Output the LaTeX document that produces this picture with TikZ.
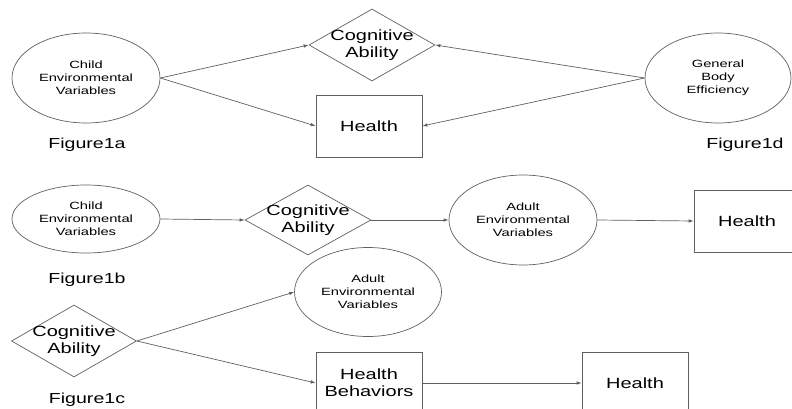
\documentclass[tikz,border=0pt]{standalone}
\usepackage{fontspec}
\newfontfamily\arialx[FakeStretch=1.35]{Liberation Sans}
\newfontfamily\arialsm[FakeStretch=1.4]{Liberation Sans}
\usetikzlibrary{shapes.geometric,arrows.meta}
\definecolor{linegray}{RGB}{95,95,95}
\begin{document}
\begin{tikzpicture}[x=1pt,y=-1pt,
  every node/.style={font=\arialx, text=black},
  ell/.style={draw=linegray, line width=0.7pt, ellipse, inner sep=0pt},
  diam/.style={draw=linegray, line width=0.7pt, diamond, inner sep=0pt, minimum width=126pt, minimum height=72pt},
  boxn/.style={draw=linegray, line width=0.7pt, rectangle, inner sep=0pt, minimum width=106pt, minimum height=62pt},
  smalltxt/.style={font=\arialsm\fontsize{10.5}{13}\selectfont, align=center},
  bigtxt/.style={font=\arialx\fontsize{14.8}{17}\selectfont, align=center},
  figlab/.style={font=\arialx\fontsize{14.5}{17}\selectfont},
  conn/.style={draw=linegray, line width=0.7pt, -{Latex[length=5pt,width=3.5pt]}}
]
\useasboundingbox (0,0) rectangle (792,409);
\clip (0,0) rectangle (792,409);

% Figure 1a / 1d
\node[ell, minimum width=148pt, minimum height=90pt] (child1) at (86,78) {};
\node[smalltxt] (child1t) at (child1) {Child\\Environmental\\Variables};
\node[diam] (cog1) at (372,45) {};
\node[bigtxt] (cog1t) at (cog1) {Cognitive\\Ability};
\node[boxn] (health1) at (369,126) {};
\node[bigtxt] (health1t) at (health1) {Health};
\node[ell, minimum width=146pt, minimum height=90pt] (gbe) at (718,78) {};
\node[smalltxt] (gbet) at (gbe) {General\\Body\\Efficiency};
\node[figlab] (fig1a) at (87,145) {Figure1a};
\node[figlab] (fig1d) at (745,145) {Figure1d};

\draw[conn] (child1.east) -- (cog1.west);
\draw[conn] (child1.east) -- (health1.west);
\draw[conn] (gbe.west) -- (cog1.east);
\draw[conn] (gbe.west) -- (health1.east);

% Figure 1b
\node[ell, minimum width=148pt, minimum height=68pt] (child2) at (86,219) {};
\node[smalltxt] (child2t) at (child2) {Child\\Environmental\\Variables};
\node[diam, minimum height=70pt] (cog2) at (308,220) {};
\node[bigtxt] (cog2t) at (cog2) {Cognitive\\Ability};
\node[ell, minimum width=148pt, minimum height=90pt] (adult2) at (523,220) {};
\node[smalltxt] (adult2t) at (adult2) {Adult\\Environmental\\Variables};
\node[boxn] (health2) at (747,221) {};
\node[bigtxt] (health2t) at (health2) {Health};
\node[figlab] (fig1b) at (87,280) {Figure1b};

\draw[conn] (child2.east) -- (cog2.west);
\draw[conn] (cog2.east) -- (adult2.west);
\draw[conn] (adult2.east) -- (health2.west);

% Figure 1c
\node[diam, minimum width=125pt] (cog3) at (74,341) {};
\node[bigtxt] (cog3t) at (cog3) {Cognitive\\Ability};
\node[ell, minimum width=147pt, minimum height=89pt] (adult3) at (368,292) {};
\node[smalltxt] (adult3t) at (adult3) {Adult\\Environmental\\Variables};
\node[boxn] (hb) at (369,383) {};
\node[bigtxt] (hbt) at (hb) {Health\\Behaviors};
\node[boxn] (health3) at (635,383) {};
\node[bigtxt] (health3t) at (health3) {Health};
\node[figlab] (fig1c) at (87,400) {Figure1c};

\draw[conn] (cog3.east) -- (adult3.west);
\draw[conn] (cog3.east) -- (hb.west);
\draw[conn] (hb.east) -- (health3.west);
\end{tikzpicture}
\end{document}
